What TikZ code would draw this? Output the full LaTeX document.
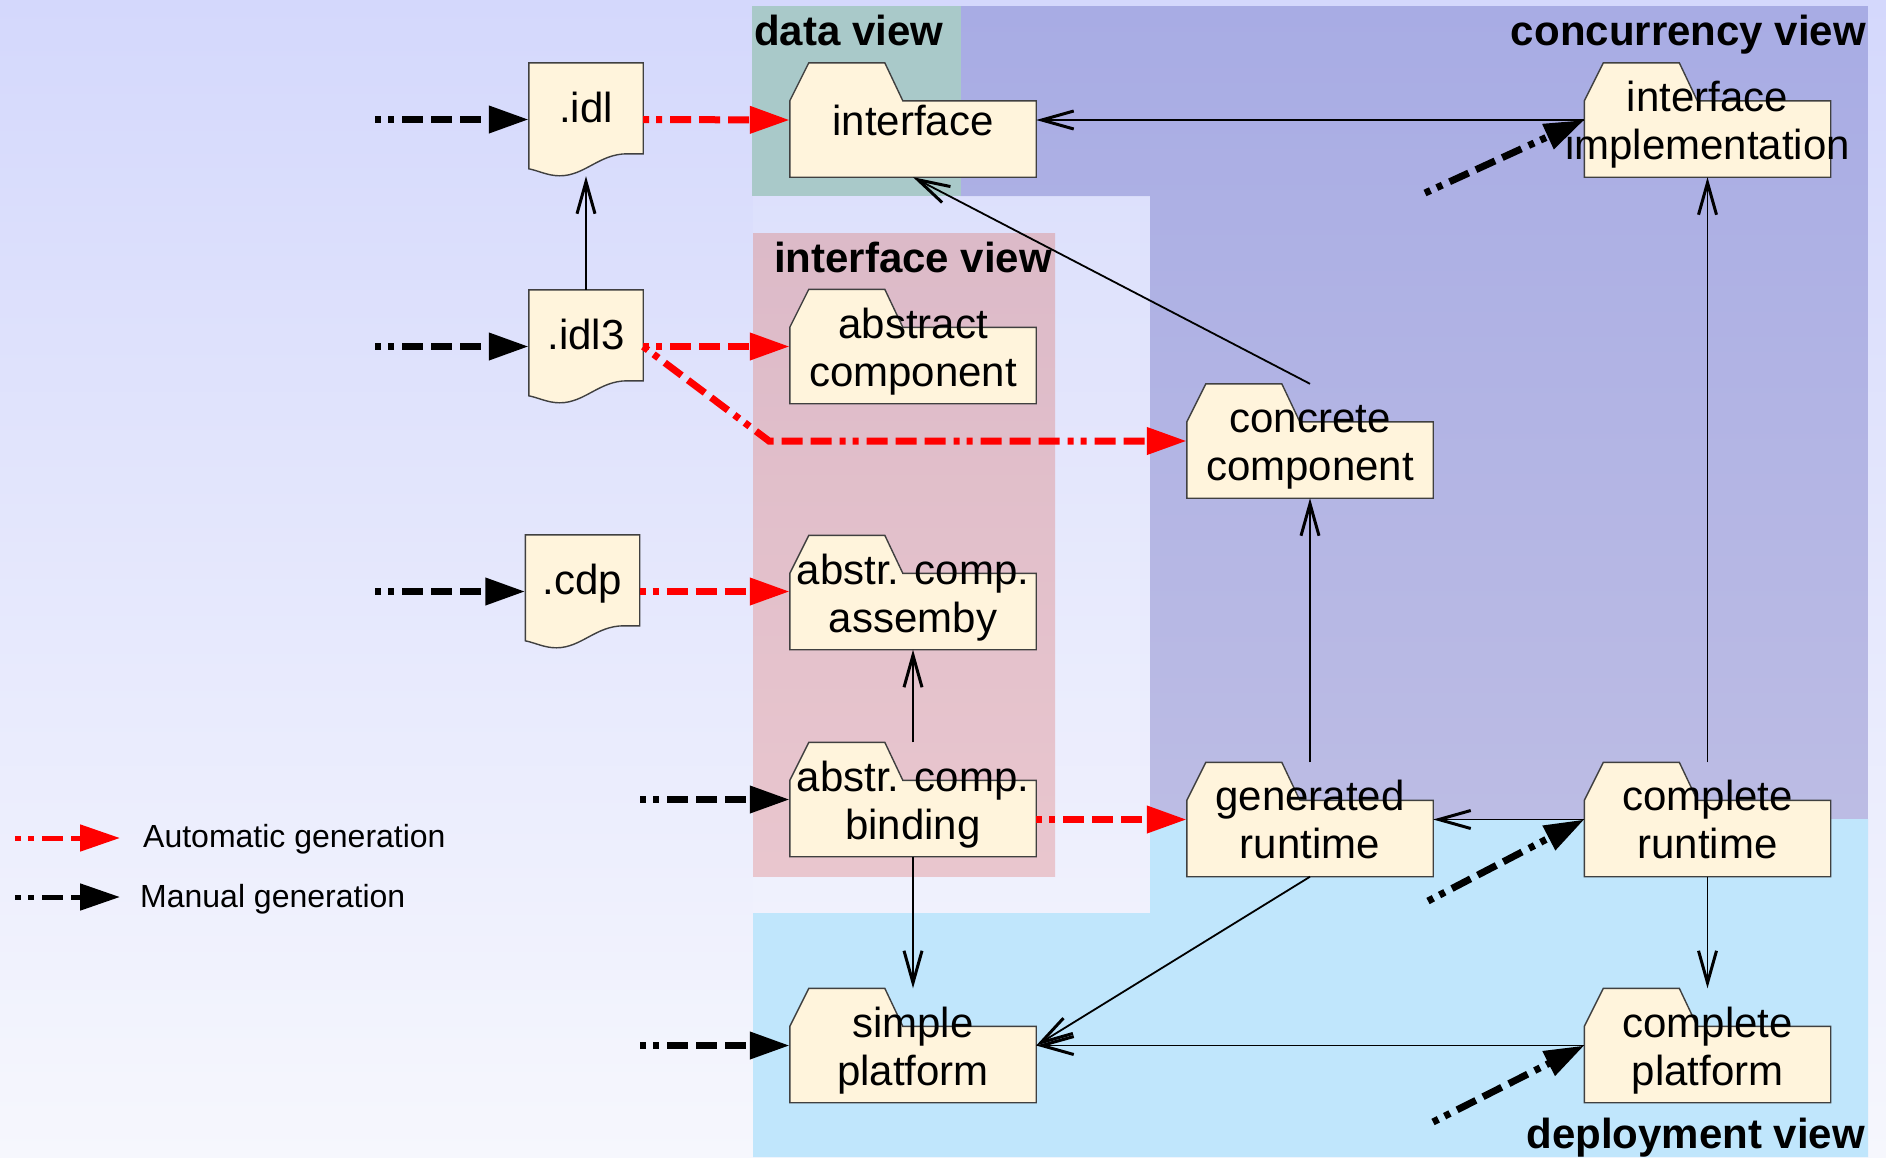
\documentclass[tikz,border=0pt]{standalone}
\usepackage{fontspec}
\setmainfont{Liberation Sans}
\usetikzlibrary{calc,arrows.meta,backgrounds}
\definecolor{bgtop}{RGB}{212,216,252}
\definecolor{bgbot}{RGB}{246,247,253}
\definecolor{dataview}{RGB}{169,201,201}
\definecolor{concview}{RGB}{168,172,228}
\definecolor{concviewlow}{RGB}{188,188,228}
\definecolor{ifaceview}{RGB}{220,186,200}
\definecolor{ifaceviewlow}{RGB}{233,198,206}
\definecolor{deplview}{RGB}{192,230,252}
\definecolor{paper}{RGB}{255,244,220}
\pgfdeclarelayer{views}
\pgfdeclarelayer{outline}
\pgfsetlayers{views,outline,main}
\newcommand{\pkgstrut}{\rule{0pt}{40pt}}
\tikzset{gen/.style={line width=7pt,dash pattern=on 6pt off 7pt on 6pt off 8pt on 21pt off 8pt on 21pt off 8pt on 21pt off 8pt,-{Triangle[length=40pt,width=26pt]}},
autogen/.style={gen,red},mangen/.style={gen,black},
uses/.style={line width=1.8pt,-{Straight Barb[length=32pt,width=18pt,line width=3pt]}}}

\begin{document}
\begin{tikzpicture}[x=1pt, y=-1pt]

\tikzset{folder/.style={minimum width=246pt,minimum height=114pt,inner sep=0pt,align=center,font=\fontsize{42}{48}\selectfont},
doc/.style={minimum width=114pt,minimum height=113pt,inner sep=0pt,text depth=24pt,font=\fontsize{42}{47}\selectfont},
box/.style={draw=black!75,fill=paper,line width=1.4pt},
title/.style={inner sep=0pt,font=\bfseries\fontsize{42}{47}\selectfont},
legend/.style={inner sep=0pt,font=\fontsize{32}{38}\selectfont}}

\useasboundingbox (0,0) rectangle (1886,1157);

% Views
\begin{pgfonlayer}{views}
\shade[top color=bgtop,bottom color=bgbot] (0,0) rectangle (1886,1157);
\shade[top color=concview,bottom color=concviewlow] (960,6) -- (1868,6) -- (1868,819) -- (1150,819) -- (1150,196) -- (960,196) -- cycle;
\fill[dataview] (752,6) rectangle (961,196);
\fill[white,opacity=.1] (753,196) rectangle (1150,913);
\shade[top color=ifaceview,bottom color=ifaceviewlow] (753,233) rectangle (1055,876);
\fill[deplview] (753,913) -- (1150,913) -- (1150,819) -- (1868,819) -- (1868,1157) -- (753,1157) -- cycle;
\end{pgfonlayer}
\node[title,anchor=base west] (dataviewlbl) at (754,45) {data view};
\node[title,anchor=base east] (concviewlbl) at (1866,45) {concurrency view};
\node[title,anchor=base] (ifaceviewlbl) at (913,272) {interface view};
\node[title,anchor=base east] (deplviewlbl) at (1865,1148) {deployment view};

% Files
\node[doc] (idl) at (586,119.5) {.idl};
\node[doc] (idl3) at (586,346.5) {.idl3};
\node[doc] (cdp) at (582.5,591.5) {.cdp};

% Packages
\node[folder] (iface) at (913,120) {interface};
\node[folder] (impl) at (1707.5,120) {\pkgstrut interface\\\makebox[0pt]{implementation}};
\node[folder] (abscomp) at (913,346.5) {\pkgstrut abstract\\component};
\node[folder] (conc) at (1310,441) {\pkgstrut concrete\\component};
\node[folder] (assem) at (913,592.5) {\pkgstrut abstr. comp.\\assemby};
\node[folder] (bind) at (913,799.5) {\pkgstrut abstr. comp.\\binding};
\node[folder] (genrt) at (1310,819.5) {generated\\runtime};
\node[folder] (comprt) at (1707.5,819.5) {complete\\runtime};
\node[folder] (simple) at (913,1045.5) {\pkgstrut simple\\platform};
\node[folder] (compplat) at (1707.5,1045.5) {\pkgstrut complete\\platform};

\begin{pgfonlayer}{outline}
\foreach \n in {iface,impl,abscomp,conc,assem,bind,genrt,comprt,simple,compplat}
  \draw[box] ($(\n.north west)+(0,38)$) -- ++(19,-38) -- ++(76,0) -- ++(18,38) -- ($(\n.north east)+(0,38)$) -- (\n.south east) -- (\n.south west) -- cycle;
\foreach \n in {idl,idl3,cdp}
  \draw[box] (\n.north west) -- (\n.north east) -- ++(0,91) -- ++(-16,0) .. controls +(-28,0) and +(25,0) .. ($(\n.north west)+(31,113)$) .. controls +(-12,0) and +(10,2) .. ($(\n.north west)+(0,106)$) -- cycle;
\end{pgfonlayer}

% Free ends
\coordinate (m1) at (375,119.5);
\coordinate (m2) at (375,346.5);
\coordinate (m3) at (375,591.5);
\coordinate (m4) at (640,799.5);
\coordinate (m5) at (640,1045.5);
\coordinate (m6) at (1425,193);
\coordinate (m7) at (1428,901);
\coordinate (m8) at (1433,1122);
\coordinate (bend) at (769,441);

% Manual generation
\draw[mangen] (m1) -- (idl.west);
\draw[mangen] (m2) -- (idl3.west);
\draw[mangen] (m3) -- (cdp.west);
\draw[mangen] (m4) -- (bind.west);
\draw[mangen] (m5) -- (simple.west);
\draw[mangen] (m6) -- (impl.west);
\draw[mangen] (m7) -- (comprt.west);
\draw[mangen] (m8) -- (compplat.west);

% Automatic generation
\draw[autogen] (idl.east) -- (iface.west);
\draw[autogen] (idl3.east) -- (abscomp.west);
\draw[autogen] (idl3.east) -- (bend) -- (conc.west);
\draw[autogen] (cdp.east) -- (cdp.east -| assem.west);
\draw[autogen] (genrt.west -| bind.east) -- (genrt.west);

% Dependencies
\draw[uses] (idl3.north) -- (idl.south);
\draw[uses] (impl.west) -- (iface.east);
\draw[uses] (conc.north) -- (iface.south);
\draw[uses] (genrt.north) -- (conc.south);
\draw[uses] (comprt.north) -- (impl.south);
\draw[uses] (comprt.west) -- (genrt.east);
\draw[uses] (comprt.south) -- (compplat.north);
\draw[uses] (bind.north) -- (assem.south);
\draw[uses] (bind.south) -- (simple.north);
\draw[uses] (genrt.south) -- (simple.east);
\draw[uses] (compplat.west) -- (simple.east);

% Legend
\coordinate (la1) at (15,838); \coordinate (la2) at (120,838);
\coordinate (lm1) at (15,897); \coordinate (lm2) at (120,897);
\draw[autogen,line width=5pt] (la1) -- (la2);
\draw[mangen,line width=5pt] (lm1) -- (lm2);
\node[legend,anchor=base west] (autolbl) at (143,847) {Automatic generation};
\node[legend,anchor=base west] (manlbl) at (140,907) {Manual generation};

\end{tikzpicture}
\end{document}
